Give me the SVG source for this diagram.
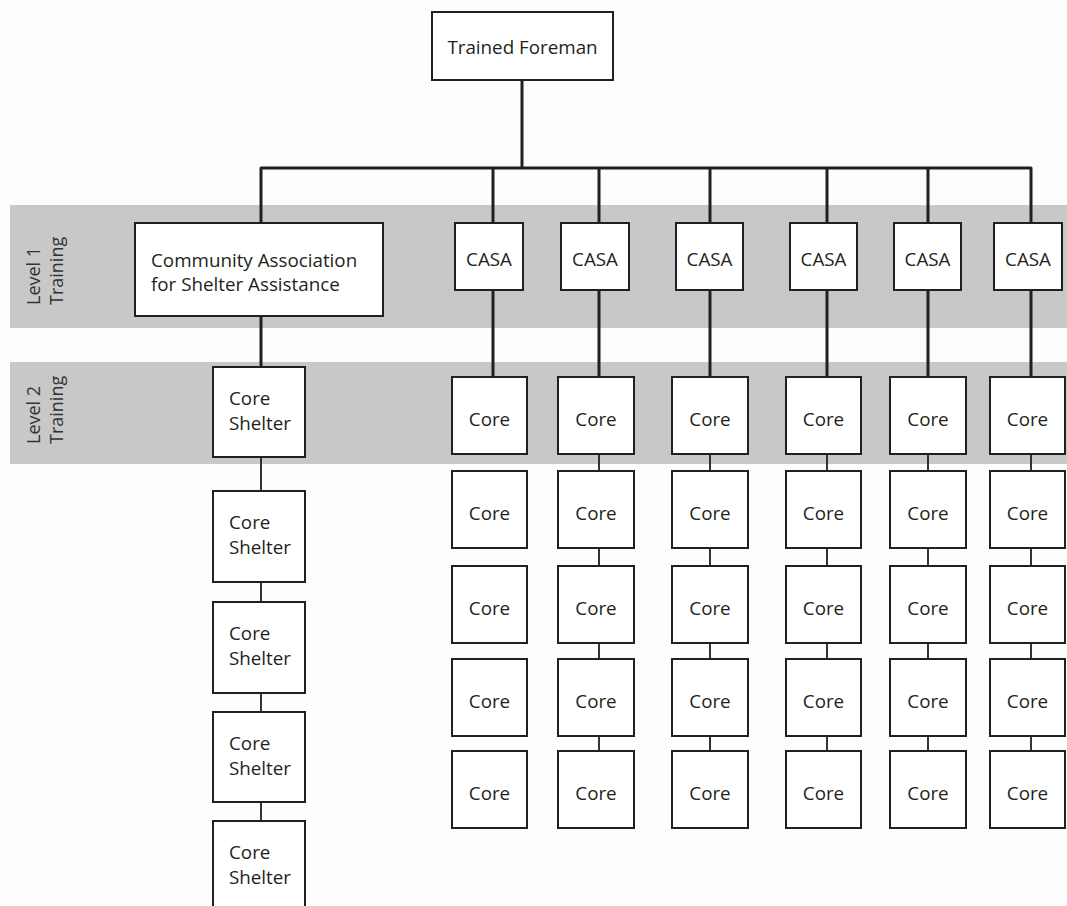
<svg xmlns="http://www.w3.org/2000/svg" width="1067" height="906" viewBox="0 0 1067 906">
<style>
.box{fill:#ffffff;stroke:#231f20;stroke-width:2}
.band{fill:#c8c8c8}
.thick{fill:none;stroke:#231f20;stroke-width:3;stroke-linejoin:round}
.thin{fill:none;stroke:#231f20;stroke-width:1.8}
text{font-family:"Open Sans","Liberation Sans",sans-serif;font-size:18.8px;fill:#231f20}
.c{text-anchor:middle}
.lvl{font-size:18px;fill:#333333}
</style>
<rect width="1067" height="906" fill="#fdfdfd"/>
<g id="bands">
<rect class="band" x="10" y="205" width="1057" height="123"/>
<rect class="band" x="10" y="362" width="1057" height="102"/>
<text class="lvl" transform="translate(40,305) rotate(-90)">Level 1</text>
<text class="lvl" transform="translate(63,305) rotate(-90)">Training</text>
<text class="lvl" transform="translate(40,444) rotate(-90)">Level 2</text>
<text class="lvl" transform="translate(63,444) rotate(-90)">Training</text>
</g>
<g id="connectors">
<path class="thick" d="M522,80V168M261,223V168H1031V223M493,168V223M599,168V223M710,168V223M827,168V223M928,168V223"/>
<path class="thick" d="M261,316V367M493,290V377M599,290V377M710,290V377M827,290V377M928,290V377M1031,290V377"/>
<path class="thin" d="M261,457V491M261,582V602M261,693V712M261,802V821"/>
<path class="thin" d="M599,454V471M599,548V566M599,643V659M599,736V751"/>
<path class="thin" d="M710,454V471M710,548V566M710,643V659M710,736V751"/>
<path class="thin" d="M827,454V471M827,548V566M827,643V659M827,736V751"/>
<path class="thin" d="M928,454V471M928,548V566M928,643V659M928,736V751"/>
<path class="thin" d="M1031,454V471M1031,548V566M1031,643V659M1031,736V751"/>
</g>
<g id="foreman"><rect class="box" x="432" y="12" width="181" height="68"/><text class="c" x="522.5" y="54">Trained Foreman</text></g>
<g id="casa-main"><rect class="box" x="135" y="223" width="248" height="93"/><text x="151" y="267">Community Association</text><text x="151" y="291">for Shelter Assistance</text></g>
<g id="casa1"><rect class="box" x="455" y="223" width="68" height="67"/><text class="c" x="489" y="266">CASA</text></g>
<g id="casa2"><rect class="box" x="561" y="223" width="68" height="67"/><text class="c" x="595" y="266">CASA</text></g>
<g id="casa3"><rect class="box" x="676" y="223" width="67" height="67"/><text class="c" x="709.5" y="266">CASA</text></g>
<g id="casa4"><rect class="box" x="790" y="223" width="67" height="67"/><text class="c" x="823.5" y="266">CASA</text></g>
<g id="casa5"><rect class="box" x="894" y="223" width="67" height="67"/><text class="c" x="927.5" y="266">CASA</text></g>
<g id="casa6"><rect class="box" x="994" y="223" width="68" height="67"/><text class="c" x="1028" y="266">CASA</text></g>
<g id="shelter1"><rect class="box" x="213" y="367" width="92" height="90"/><text x="229" y="405">Core</text><text x="229" y="430">Shelter</text></g>
<g id="shelter2"><rect class="box" x="213" y="491" width="92" height="91"/><text x="229" y="529">Core</text><text x="229" y="554">Shelter</text></g>
<g id="shelter3"><rect class="box" x="213" y="602" width="92" height="91"/><text x="229" y="640">Core</text><text x="229" y="665">Shelter</text></g>
<g id="shelter4"><rect class="box" x="213" y="712" width="92" height="90"/><text x="229" y="750">Core</text><text x="229" y="775">Shelter</text></g>
<g id="shelter5"><rect class="box" x="213" y="821" width="92" height="91"/><text x="229" y="859">Core</text><text x="229" y="884">Shelter</text></g>
<g id="core-c1"><g id="c1r1"><rect class="box" x="452" y="377" width="75" height="77"/><text class="c" x="489.5" y="426">Core</text></g><g id="c1r2"><rect class="box" x="452" y="471" width="75" height="77"/><text class="c" x="489.5" y="520">Core</text></g><g id="c1r3"><rect class="box" x="452" y="566" width="75" height="77"/><text class="c" x="489.5" y="615">Core</text></g><g id="c1r4"><rect class="box" x="452" y="659" width="75" height="77"/><text class="c" x="489.5" y="708">Core</text></g><g id="c1r5"><rect class="box" x="452" y="751" width="75" height="77"/><text class="c" x="489.5" y="800">Core</text></g></g>
<g id="core-c2"><g id="c2r1"><rect class="box" x="558" y="377" width="76" height="77"/><text class="c" x="596" y="426">Core</text></g><g id="c2r2"><rect class="box" x="558" y="471" width="76" height="77"/><text class="c" x="596" y="520">Core</text></g><g id="c2r3"><rect class="box" x="558" y="566" width="76" height="77"/><text class="c" x="596" y="615">Core</text></g><g id="c2r4"><rect class="box" x="558" y="659" width="76" height="77"/><text class="c" x="596" y="708">Core</text></g><g id="c2r5"><rect class="box" x="558" y="751" width="76" height="77"/><text class="c" x="596" y="800">Core</text></g></g>
<g id="core-c3"><g id="c3r1"><rect class="box" x="672" y="377" width="76" height="77"/><text class="c" x="710" y="426">Core</text></g><g id="c3r2"><rect class="box" x="672" y="471" width="76" height="77"/><text class="c" x="710" y="520">Core</text></g><g id="c3r3"><rect class="box" x="672" y="566" width="76" height="77"/><text class="c" x="710" y="615">Core</text></g><g id="c3r4"><rect class="box" x="672" y="659" width="76" height="77"/><text class="c" x="710" y="708">Core</text></g><g id="c3r5"><rect class="box" x="672" y="751" width="76" height="77"/><text class="c" x="710" y="800">Core</text></g></g>
<g id="core-c4"><g id="c4r1"><rect class="box" x="786" y="377" width="75" height="77"/><text class="c" x="823.5" y="426">Core</text></g><g id="c4r2"><rect class="box" x="786" y="471" width="75" height="77"/><text class="c" x="823.5" y="520">Core</text></g><g id="c4r3"><rect class="box" x="786" y="566" width="75" height="77"/><text class="c" x="823.5" y="615">Core</text></g><g id="c4r4"><rect class="box" x="786" y="659" width="75" height="77"/><text class="c" x="823.5" y="708">Core</text></g><g id="c4r5"><rect class="box" x="786" y="751" width="75" height="77"/><text class="c" x="823.5" y="800">Core</text></g></g>
<g id="core-c5"><g id="c5r1"><rect class="box" x="890" y="377" width="76" height="77"/><text class="c" x="928" y="426">Core</text></g><g id="c5r2"><rect class="box" x="890" y="471" width="76" height="77"/><text class="c" x="928" y="520">Core</text></g><g id="c5r3"><rect class="box" x="890" y="566" width="76" height="77"/><text class="c" x="928" y="615">Core</text></g><g id="c5r4"><rect class="box" x="890" y="659" width="76" height="77"/><text class="c" x="928" y="708">Core</text></g><g id="c5r5"><rect class="box" x="890" y="751" width="76" height="77"/><text class="c" x="928" y="800">Core</text></g></g>
<g id="core-c6"><g id="c6r1"><rect class="box" x="990" y="377" width="75" height="77"/><text class="c" x="1027.5" y="426">Core</text></g><g id="c6r2"><rect class="box" x="990" y="471" width="75" height="77"/><text class="c" x="1027.5" y="520">Core</text></g><g id="c6r3"><rect class="box" x="990" y="566" width="75" height="77"/><text class="c" x="1027.5" y="615">Core</text></g><g id="c6r4"><rect class="box" x="990" y="659" width="75" height="77"/><text class="c" x="1027.5" y="708">Core</text></g><g id="c6r5"><rect class="box" x="990" y="751" width="75" height="77"/><text class="c" x="1027.5" y="800">Core</text></g></g>
</svg>
